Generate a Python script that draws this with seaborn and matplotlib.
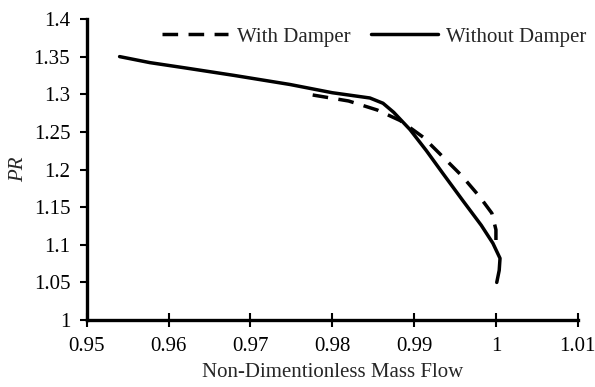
import numpy as np
import pandas as pd
import matplotlib
matplotlib.use("Agg")
import matplotlib.pyplot as plt
import seaborn as sns

# values
flow_without = [0.9540, 0.9577, 0.9620, 0.9680, 0.9748, 0.9800, 0.9846, 0.9862, 0.9875,
                0.9895, 0.9915, 0.9935, 0.9960, 0.9982, 0.99963, 1.0005, 1.0004, 1.0001]
pr_without = [1.350, 1.342, 1.335, 1.325, 1.313, 1.302, 1.295, 1.288, 1.276,
              1.253, 1.225, 1.195, 1.158, 1.126, 1.102, 1.082, 1.066, 1.050]

flow_with = [0.9776, 0.9820, 0.9855, 0.9883, 0.9911, 0.9935, 0.9958, 0.9980,
             0.9995, 1.0000, 1.0000]
pr_with = [1.299, 1.291, 1.279, 1.265, 1.243, 1.217, 1.192, 1.164,
           1.142, 1.120, 1.102]

x_ticks = [0.95, 0.96, 0.97, 0.98, 0.99, 1.00, 1.01]
x_labels = ["0.95", "0.96", "0.97", "0.98", "0.99", "1", "1.01"]
y_ticks = [1.0, 1.05, 1.1, 1.15, 1.2, 1.25, 1.3, 1.35, 1.4]
y_labels = ["1", "1.05", "1.1", "1.15", "1.2", "1.25", "1.3", "1.35", "1.4"]

df = pd.concat([
    pd.DataFrame({"flow": flow_with, "pr": pr_with, "case": "With Damper"}),
    pd.DataFrame({"flow": flow_without, "pr": pr_without, "case": "Without Damper"}),
])

sns.set_style("ticks")
plt.rcParams["font.family"] = ["Liberation Serif", "DejaVu Serif"]

fig = plt.figure(figsize=(5.95, 3.87), dpi=100)
ax = fig.add_axes([0.146, 0.173, 0.825, 0.778])

for name, grp in df.groupby("case"):
    ls = (0, (4.5, 3)) if name == "With Damper" else "-"
    sns.lineplot(data=grp, x="flow", y="pr", sort=False, estimator=None,
                 color="black", linewidth=2.5, linestyle=ls, label=name, ax=ax)

ax.set_xlim(0.95, 1.01)
ax.set_ylim(1.0, 1.4)
ax.set_xticks(x_ticks)
ax.set_xticklabels(x_labels)
ax.set_yticks(y_ticks)
ax.set_yticklabels(y_labels)
ax.tick_params(labelsize=15, width=1.5, length=5, color="black", labelcolor="black")
ax.tick_params(axis="x", direction="inout", length=10, pad=7)
ax.tick_params(axis="y", pad=7)
for s in ["left", "bottom"]:
    ax.spines[s].set_linewidth(2.4)
    ax.spines[s].set_color("black")
sns.despine(ax=ax)

ax.set_xlabel("Non-Dimentionless Mass Flow", fontsize=15, labelpad=5)
ax.set_ylabel("PR", fontsize=15, style="italic", labelpad=4)

ax.legend(loc="upper center", bbox_to_anchor=(0.585, 1.035), ncol=2, frameon=False,
          fontsize=15, handlelength=3.2, columnspacing=1.0, handletextpad=0.4)

fig.savefig("out.png", dpi=100)
